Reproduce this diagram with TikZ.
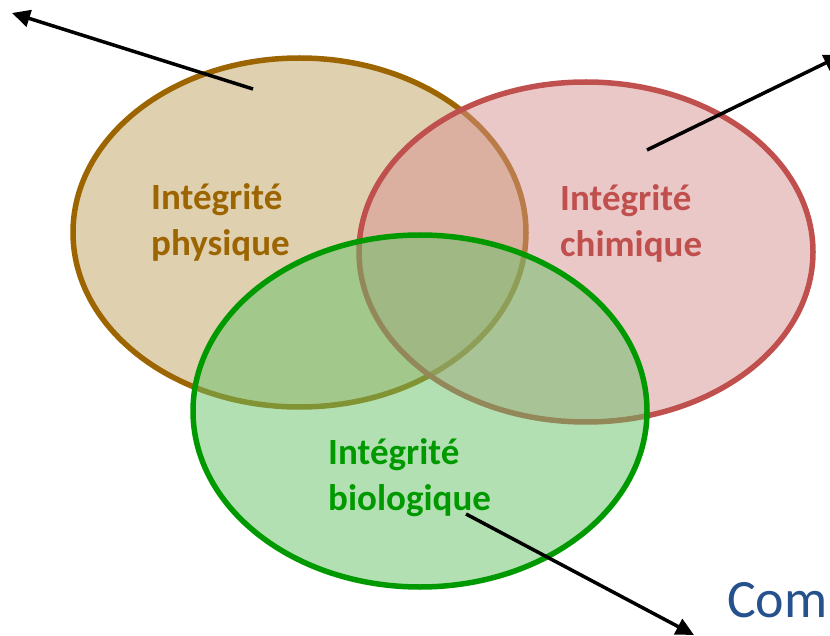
\documentclass[tikz,border=0pt]{standalone}
\usepackage{fontspec}
\setmainfont{Carlito}
\usetikzlibrary{shapes.geometric,arrows.meta}
\definecolor{physline}{HTML}{9C6500}
\definecolor{physfill}{HTML}{BFA161}
\definecolor{chemline}{HTML}{C0504D}
\definecolor{chemfill}{HTML}{D79191}
\definecolor{bioline}{HTML}{009A00}
\definecolor{biofill}{HTML}{67C167}
\definecolor{comblue}{HTML}{25528C}
\tikzset{
  venn/.style={ellipse, line width=5.5pt, fill opacity=0.5, draw opacity=1, inner sep=0pt, outer sep=0pt},
  lbl/.style={font=\bfseries\fontsize{37}{46}\selectfont, align=left, anchor=west, inner sep=0pt},
  pointer/.style={line width=3.5pt, -{Triangle[length=18pt,width=17pt]}}
}
\begin{document}
\begin{tikzpicture}[x=1pt,y=-1pt]
\useasboundingbox (0,0) rectangle (830,636);
\clip (0,0) rectangle (830,636);
\node[venn, draw=physline, fill=physfill, minimum width=453pt, minimum height=349pt] (phys) at (299.5,232.5) {};
\node[venn, draw=chemline, fill=chemfill, minimum width=454pt, minimum height=340pt] (chem) at (586,252) {};
\node[venn, draw=bioline, fill=biofill, minimum width=454pt, minimum height=352pt] (bio) at (420,411) {};
\node[lbl, text=physline] (tphys) at (151,222) {Intégrité\\physique};
\node[lbl, text=chemline] (tchem) at (560,223) {Intégrité\\chimique};
\node[lbl, text=bioline] (tbio) at (328,478) {Intégrité\\biologique};
\node[anchor=base west, inner sep=0pt, text=comblue, font=\fontsize{54}{60}\selectfont] (com) at (727,617) {Com};
\coordinate (a1s) at (253,89);
\coordinate (a1e) at (12,13);
\coordinate (a2s) at (647,150);
\coordinate (a2e) at (842,55);
\coordinate (a3s) at (466,514);
\coordinate (a3e) at (694,635);
\draw[pointer] (a1s) -- (a1e);
\draw[pointer] (a2s) -- (a2e);
\draw[pointer] (a3s) -- (a3e);
\end{tikzpicture}
\end{document}
